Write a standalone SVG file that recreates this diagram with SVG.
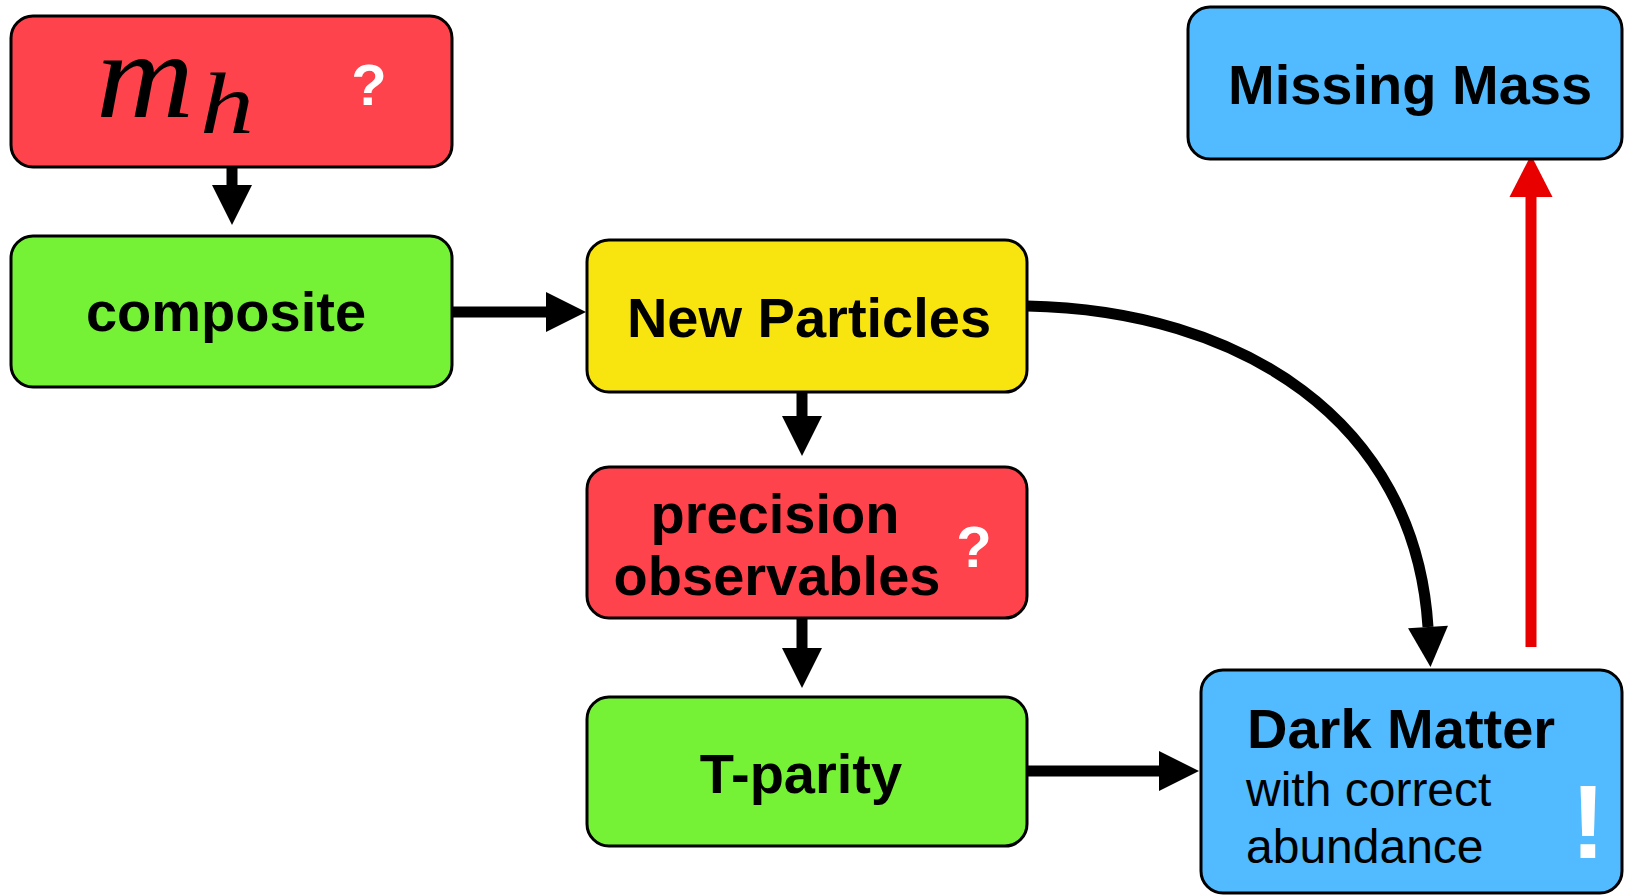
<svg xmlns="http://www.w3.org/2000/svg" width="1625" height="895" viewBox="0 0 1625 895">
<defs>
<style>
.box{stroke:#000;stroke-width:3}
.red{fill:#FF434D}
.green{fill:#75F236}
.yellow{fill:#F8E40F}
.blue{fill:#52BAFE}
.b{font-family:"Liberation Sans",Arial,sans-serif;font-weight:bold;font-size:56px;fill:#000}
.r{font-family:"Liberation Sans",Arial,sans-serif;font-size:48px;fill:#000}
.q{font-family:"Liberation Sans",Arial,sans-serif;font-weight:bold;font-size:58px;fill:#fff}
.math{font-family:"Liberation Serif","Times New Roman",serif;font-style:italic;fill:#000}
.conn{fill:none;stroke:#000;stroke-width:11}
.connr{fill:none;stroke:#E80000;stroke-width:11}
</style>
<marker id="ah" markerUnits="userSpaceOnUse" markerWidth="40" markerHeight="40" refX="0" refY="20" orient="auto" overflow="visible">
<path d="M0,0 L40,20 L0,40 Z" fill="#000"/>
</marker>
<marker id="ahr" markerUnits="userSpaceOnUse" markerWidth="43" markerHeight="43" refX="0" refY="21.5" orient="auto" overflow="visible">
<path d="M0,0 L42,21.5 L0,43 Z" fill="#E80000"/>
</marker>
</defs>
<rect width="1625" height="895" fill="#fff"/>

<g id="connectors">
<line class="conn" x1="232" y1="167" x2="232" y2="185" marker-end="url(#ah)"/>
<line class="conn" x1="452" y1="312" x2="546" y2="312" marker-end="url(#ah)"/>
<line class="conn" x1="802" y1="392" x2="802" y2="416" marker-end="url(#ah)"/>
<line class="conn" x1="802" y1="618" x2="802" y2="648" marker-end="url(#ah)"/>
<line class="conn" x1="1027" y1="771" x2="1159" y2="771" marker-end="url(#ah)"/>
<path class="conn" d="M1027,306 C1240,310 1415,420 1428,627" marker-end="url(#ah)"/>
<line class="connr" x1="1531" y1="647" x2="1531" y2="197" marker-end="url(#ahr)"/>
</g>

<g id="node-mh">
<rect class="box red" x="11" y="16" width="441" height="151" rx="22"/>
<text class="math" x="96" y="117" font-size="122" textLength="98" lengthAdjust="spacingAndGlyphs">m</text>
<text class="math" x="200" y="133" font-size="86" textLength="54" lengthAdjust="spacingAndGlyphs">h</text>
<text class="q" x="369" y="105" text-anchor="middle">?</text>
</g>

<g id="node-composite">
<rect class="box green" x="11" y="236" width="441" height="151" rx="22"/>
<text class="b" x="226" y="331" text-anchor="middle">composite</text>
</g>

<g id="node-newparticles">
<rect class="box yellow" x="587" y="240" width="440" height="152" rx="22"/>
<text class="b" x="809" y="337" text-anchor="middle">New Particles</text>
</g>

<g id="node-precision">
<rect class="box red" x="587" y="467" width="440" height="151" rx="22"/>
<text class="b" x="775" y="533" text-anchor="middle">precision</text>
<text class="b" x="777" y="595" text-anchor="middle">observables</text>
<text class="q" x="974" y="567" text-anchor="middle">?</text>
</g>

<g id="node-tparity">
<rect class="box green" x="587" y="697" width="440" height="149" rx="22"/>
<text class="b" x="801" y="793" text-anchor="middle">T-parity</text>
</g>

<g id="node-missingmass">
<rect class="box blue" x="1188" y="7" width="434" height="152" rx="22"/>
<text class="b" x="1228" y="104">Missing Mass</text>
</g>

<g id="node-darkmatter">
<rect class="box blue" x="1201" y="670" width="421" height="223" rx="22"/>
<text class="b" x="1247" y="748">Dark Matter</text>
<text class="r" x="1246" y="806">with correct</text>
<text class="r" x="1246" y="863">abundance</text>
<text x="1588" y="858" text-anchor="middle" font-family="'Liberation Sans',Arial,sans-serif" font-weight="bold" font-size="104" fill="#fff">!</text>
</g>
</svg>
